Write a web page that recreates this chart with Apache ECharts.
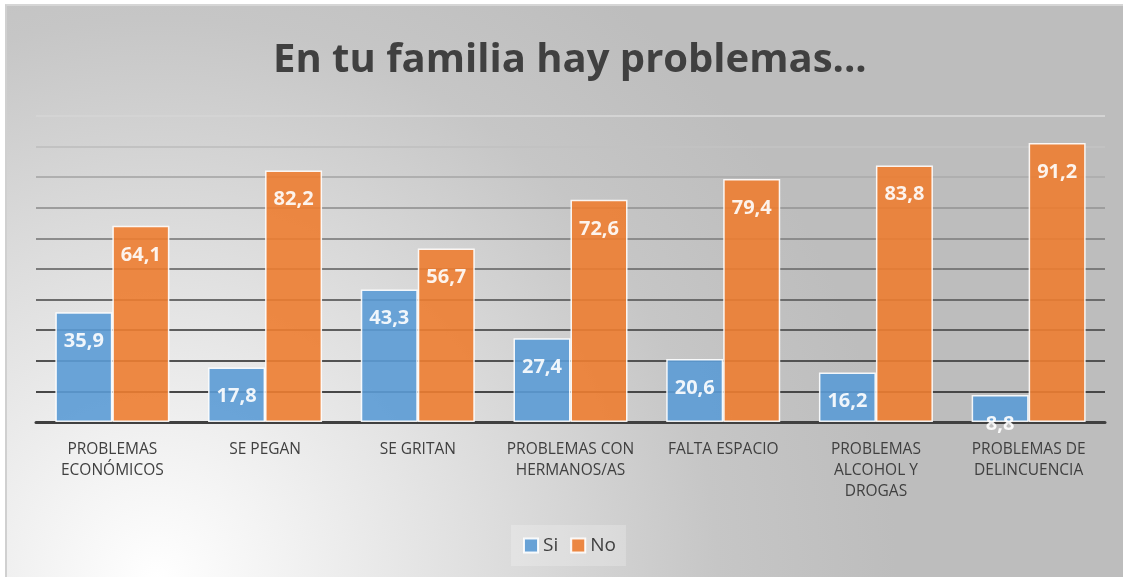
<!DOCTYPE html>
<html>
<head>
<meta charset="utf-8">
<script src="https://cdn.jsdelivr.net/npm/echarts@6/dist/echarts.min.js"></script>
<style>
  html, body { margin: 0; padding: 0; background: #ffffff; }
  #bg {
    position: absolute; left: 5px; top: 4px; width: 1118px; height: 573px;
    box-sizing: border-box;
    border-left: 2px solid #d0d0d0; border-top: 2px solid #d6d6d6;
    background: radial-gradient(circle at 150px 573px, #ffffff 0px, #f3f3f3 120px, #dcdcdc 350px, #c6c6c6 560px, #bdbdbd 740px);
  }
  #chart { position: absolute; left: 0; top: 0; width: 1123px; height: 577px; }
</style>
</head>
<body>
<div id="bg"></div>
<div id="chart"></div>
<script>
// categorias del eje x
var categorias = ['PROBLEMAS\nECONÓMICOS', 'SE PEGAN', 'SE GRITAN', 'PROBLEMAS CON\nHERMANOS/AS',
  'FALTA ESPACIO', 'PROBLEMAS\nALCOHOL Y\nDROGAS', 'PROBLEMAS DE\nDELINCUENCIA'];
var valoresSi = [35.9, 17.8, 43.3, 27.4, 20.6, 16.2, 8.8];
var valoresNo = [64.1, 82.2, 56.7, 72.6, 79.4, 83.8, 91.2];

// lineas de la cuadricula: mas oscuras abajo, mas claras arriba
var coloresLineas = ['#404040', '#474747', '#525252', '#5e5e5e', '#6c6c6c', '#7b7b7b',
  '#8c8c8c', '#9d9d9d', '#afafaf', '#c2c2c2', '#d4d4d4'];

var chart = echarts.init(document.getElementById('chart'));

var etiqueta = {
  show: true,
  position: 'insideTop',
  distance: 19,
  color: '#ffffff',
  fontFamily: 'Open Sans',
  fontWeight: 'bold',
  fontSize: 20,
  formatter: function (p) { return String(p.value).replace('.', ','); }
};

chart.setOption({
  backgroundColor: 'transparent',
  title: {
    text: 'En tu familia hay problemas...',
    left: 268,
    top: 36,
    textStyle: { fontFamily: 'Open Sans', fontWeight: 'bold', fontSize: 40, color: '#404040' }
  },
  legend: {
    data: ['Si', 'No'],
    left: 511,
    bottom: 11,
    icon: 'rect',
    itemWidth: 14,
    itemHeight: 14,
    itemGap: 12,
    padding: [11, 10, 11, 12],
    backgroundColor: 'rgba(255,255,255,0.22)',
    textStyle: { fontFamily: 'Open Sans', fontSize: 19, color: '#404040' },
    itemStyle: { borderColor: '#ffffff', borderWidth: 2 }
  },
  grid: { left: 36, right: 18, top: 116, bottom: 155 },
  xAxis: {
    type: 'category',
    data: categorias,
    axisLine: { show: true, lineStyle: { color: '#404040', width: 3 } },
    axisTick: { show: false },
    axisLabel: {
      interval: 0,
      margin: 17,
      fontFamily: 'Open Sans',
      fontSize: 15.5,
      lineHeight: 21,
      color: '#404040'
    }
  },
  yAxis: {
    type: 'value',
    min: 0,
    max: 100,
    interval: 10,
    axisLabel: { show: false },
    axisLine: { show: false },
    axisTick: { show: false },
    splitLine: { show: true, lineStyle: { color: coloresLineas, width: 2 } }
  },
  series: [
    {
      name: 'Si',
      type: 'bar',
      data: valoresSi,
      barWidth: 57,
      barGap: '0%',
      itemStyle: { color: '#5B9BD5', opacity: 0.9, borderColor: '#ffffff', borderWidth: 1.5 },
      label: etiqueta
    },
    {
      name: 'No',
      type: 'bar',
      data: valoresNo,
      barWidth: 57,
      itemStyle: { color: '#ED7D31', opacity: 0.9, borderColor: '#ffffff', borderWidth: 1.5 },
      label: etiqueta
    }
  ]
});
</script>
</body>
</html>
